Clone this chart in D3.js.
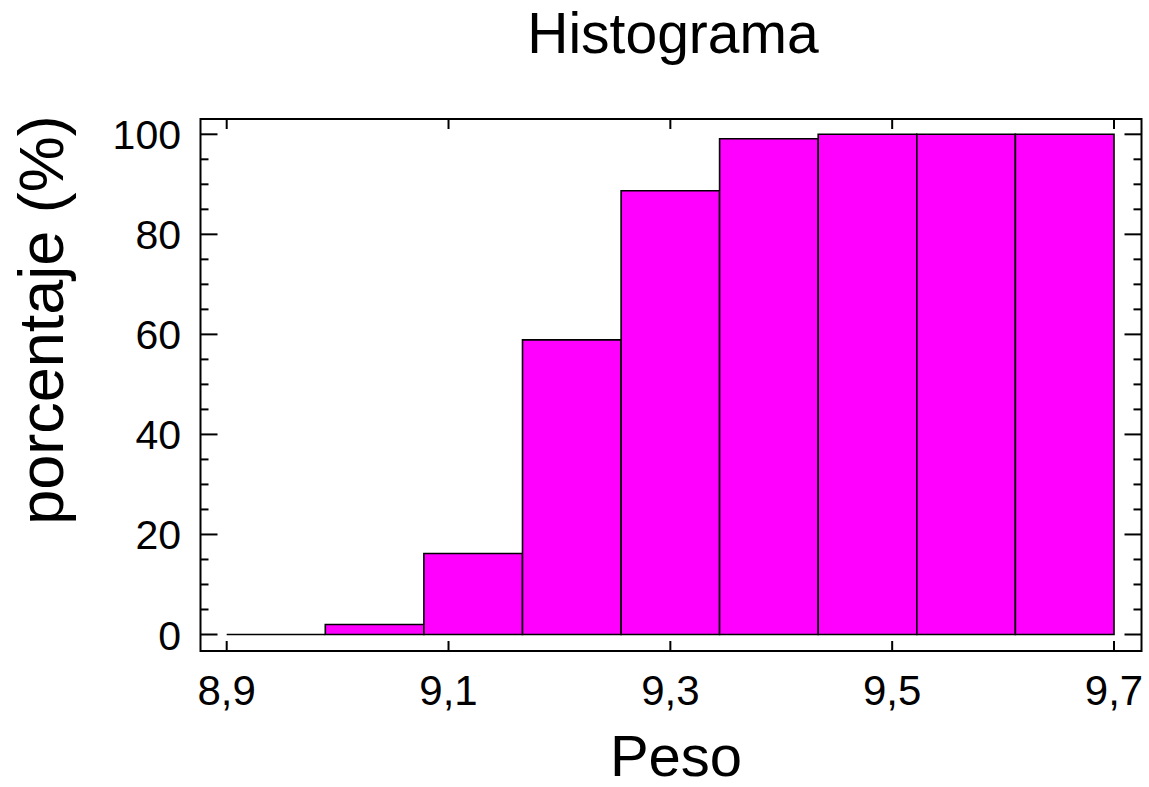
<!DOCTYPE html>
<html>
<head>
<meta charset="utf-8">
<script src="https://cdn.jsdelivr.net/npm/d3@7"></script>
<style>
  html, body { margin: 0; padding: 0; background: #fff; }
  svg { display: block; }
  text { font-family: "Liberation Sans", Arial, sans-serif; fill: #000; }
</style>
</head>
<body>
<svg id="chart" width="1149" height="787"></svg>
<script>
// Bin edges (Peso) and cumulative percentage per bin
const binEdges = [8.9, 8.9889, 9.0778, 9.1667, 9.2556, 9.3444, 9.4333, 9.5222, 9.6111, 9.7];
const cumulativePct = [0, 2.0, 16.2, 58.9, 88.7, 99.1, 100, 100, 100];
const xTickValues = [8.9, 9.1, 9.3, 9.5, 9.7];
const yMajorTicks = [0, 20, 40, 60, 80, 100];
const yMinorTicks = [5, 10, 15, 25, 30, 35, 45, 50, 55, 65, 70, 75, 85, 90, 95];

const titleText = "Histograma";
const xTitle = "Peso";
const yTitle = "porcentaje (%)";

const svg = d3.select("#chart");

// Plot frame
const frame = { left: 200.5, right: 1141.5, top: 119, bottom: 651 };

const x = d3.scaleLinear().domain([8.9, 9.7]).range([226.7, 1114]);
const y = d3.scaleLinear().domain([0, 100]).range([634.5, 134.3]);

const fmt = v => d3.format(".1f")(v).replace(".", ",");

// Bars drawn as closed paths so empty bins still show their baseline
const bins = cumulativePct.map((v, i) => ({ x0: binEdges[i], x1: binEdges[i + 1], v }));
svg.append("g")
  .selectAll("path")
  .data(bins)
  .join("path")
  .attr("d", d => {
    const p = d3.path();
    p.moveTo(x(d.x0), y(0));
    p.lineTo(x(d.x0), y(d.v));
    p.lineTo(x(d.x1), y(d.v));
    p.lineTo(x(d.x1), y(0));
    p.closePath();
    return p.toString();
  })
  .attr("fill", "#ff00ff")
  .attr("stroke", "#000")
  .attr("stroke-width", 1.6);

// Frame
svg.append("rect")
  .attr("x", frame.left).attr("y", frame.top)
  .attr("width", frame.right - frame.left)
  .attr("height", frame.bottom - frame.top)
  .attr("fill", "none").attr("stroke", "#000").attr("stroke-width", 2);

const ticks = svg.append("g").attr("stroke", "#000").attr("stroke-width", 2);

// X ticks (bottom and top, pointing inward)
xTickValues.forEach(v => {
  ticks.append("line").attr("x1", x(v)).attr("x2", x(v)).attr("y1", frame.bottom).attr("y2", frame.bottom - 10);
  ticks.append("line").attr("x1", x(v)).attr("x2", x(v)).attr("y1", frame.top).attr("y2", frame.top + 10);
});

// Y ticks (left and right, pointing inward)
yMajorTicks.forEach(v => {
  ticks.append("line").attr("x1", frame.left).attr("x2", frame.left + 17).attr("y1", y(v)).attr("y2", y(v));
  ticks.append("line").attr("x1", frame.right).attr("x2", frame.right - 17).attr("y1", y(v)).attr("y2", y(v));
});
yMinorTicks.forEach(v => {
  ticks.append("line").attr("x1", frame.left).attr("x2", frame.left + 8).attr("y1", y(v)).attr("y2", y(v));
  ticks.append("line").attr("x1", frame.right).attr("x2", frame.right - 8).attr("y1", y(v)).attr("y2", y(v));
});

// Tick labels
svg.append("g").selectAll("text")
  .data(xTickValues)
  .join("text")
  .attr("x", d => x(d))
  .attr("y", 705)
  .attr("text-anchor", "middle")
  .attr("font-size", 42)
  .text(d => fmt(d));

svg.append("g").selectAll("text")
  .data(yMajorTicks)
  .join("text")
  .attr("x", 181)
  .attr("y", d => y(d) + 15)
  .attr("text-anchor", "end")
  .attr("font-size", 41)
  .text(d => d);

// Titles
svg.append("text")
  .attr("x", 673).attr("y", 53)
  .attr("text-anchor", "middle")
  .attr("font-size", 57)
  .text(titleText);

svg.append("text")
  .attr("x", 676).attr("y", 776)
  .attr("text-anchor", "middle")
  .attr("font-size", 58)
  .text(xTitle);

svg.append("text")
  .attr("transform", "translate(63,320) rotate(-90)")
  .attr("text-anchor", "middle")
  .attr("font-size", 63)
  .text(yTitle);
</script>
</body>
</html>
